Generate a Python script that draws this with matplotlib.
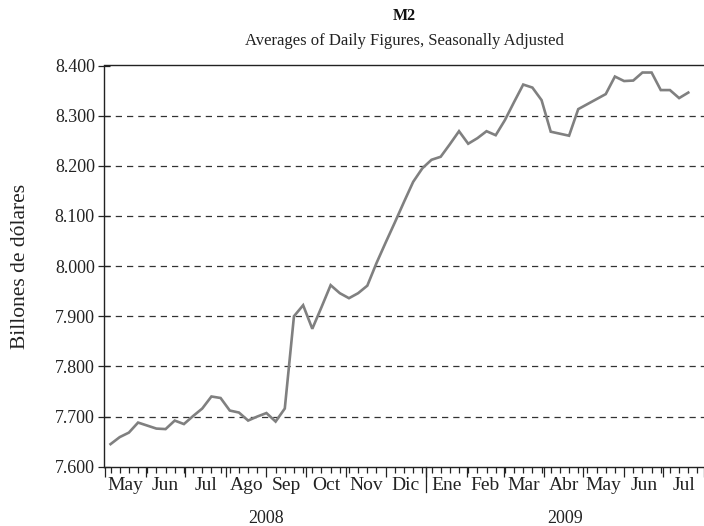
import matplotlib
matplotlib.use("Agg")
import matplotlib.pyplot as plt
import matplotlib.transforms as mtransforms
from matplotlib.lines import Line2D
import pandas as pd

# ---- data (billions of dollars, weekly) ----
start_week = "2008-05-05"
m2_values = [7645, 7659, 7668, 7688, 7682, 7676, 7675, 7692, 7685, 7701,
             7716, 7740, 7737, 7712, 7708, 7692, 7700, 7707, 7690, 7716,
             7900, 7922, 7875, 7918, 7962, 7946, 7936, 7946, 7961, 8006,
             8047, 8087, 8128, 8168, 8195, 8212, 8218, 8243, 8269, 8244,
             8255, 8269, 8261, 8291, 8327, 8362, 8356, 8331, 8268, 8264,
             8260, 8313, 8323, 8333, 8343, 8378, 8369, 8370, 8386, 8386,
             8351, 8351, 8335, 8346]
month_labels = ["May", "Jun", "Jul", "Ago", "Sep", "Oct", "Nov", "Dic",
                "Ene", "Feb", "Mar", "Abr", "May", "Jun", "Jul"]
first_month = "2008-05-01"
year_labels = ["2008", "2009"]
y_ticks = [7600, 7700, 7800, 7900, 8000, 8100, 8200, 8300, 8400]

title = "M2"
subtitle = "Averages of Daily Figures, Seasonally Adjusted"
ylabel = "Billones de dólares"

plt.rcParams['font.family'] = ['Liberation Serif', 'DejaVu Serif']

dates = pd.date_range(start_week, periods=len(m2_values), freq="7D")
month_starts = pd.date_range(first_month, periods=len(month_labels) + 1, freq="MS")

fig = plt.figure(figsize=(7.04, 5.26), dpi=100)
ax = fig.add_axes([104 / 704, (526 - 466.7) / 526, 600 / 704, 401.2 / 526])

ax.plot(dates, m2_values, color="#808080", lw=1.9, solid_joinstyle="miter", zorder=3)

ax.set_ylim(7600, 8400)
ax.set_xlim(pd.Timestamp("2008-04-30"), pd.Timestamp("2009-07-22"))

ax.set_yticks(y_ticks)
ax.yaxis.set_major_formatter(matplotlib.ticker.FuncFormatter(lambda v, p: f"{v/1000:.3f}"))
ax.tick_params(axis="y", direction="inout", length=9, width=0.9, labelsize=13, pad=2, colors="#222222")
for y in y_ticks[1:-1]:
    ax.axhline(y, color="#333333", lw=0.9, ls=(0, (5, 4)), zorder=1)

# x ticks: month starts (major), weekly (minor)
ax.set_xticks(month_starts)
ax.xaxis.set_major_formatter(matplotlib.ticker.NullFormatter())
ax.set_xticks(pd.date_range("2008-05-05", "2009-07-27", freq="7D"), minor=True)
ax.tick_params(axis="x", which="major", direction="out", length=7, width=0.9, colors="#222222")
ax.tick_params(axis="x", which="minor", direction="out", length=4.5, width=0.9, colors="#222222")

trans = mtransforms.blended_transform_factory(ax.transData, ax.transAxes)
for i, lab in enumerate(month_labels):
    mid = month_starts[i] + (month_starts[i + 1] - month_starts[i]) / 2
    ax.text(mid, -0.047, lab, transform=trans, ha="center", va="center", fontsize=14, color="#222222")

# year separator and year labels
jan1 = pd.Timestamp("2009-01-01")
ax.add_line(Line2D([jan1, jan1], [0, -0.062], transform=trans, color="#222222", lw=0.9, clip_on=False))
y0_mid = pd.Timestamp("2008-05-01") + (jan1 - pd.Timestamp("2008-05-01")) / 2
y1_mid = jan1 + (pd.Timestamp("2009-08-01") - jan1) / 2
ax.text(y0_mid, -0.128, year_labels[0], transform=trans, ha="center", va="center", fontsize=13, color="#222222")
ax.text(y1_mid, -0.128, year_labels[1], transform=trans, ha="center", va="center", fontsize=13, color="#222222")

for s in ["left", "bottom", "top"]:
    ax.spines[s].set_linewidth(1.0)
    ax.spines[s].set_color("#222222")
ax.spines["right"].set_visible(False)

ax.set_ylabel(ylabel, fontsize=15.5, color="#222222")
ax.yaxis.set_label_coords(-74 / 600, 0.5)

fig.text(404 / 704, 1 - 16 / 526, title, ha="center", va="center", fontsize=11.5, fontweight="bold", color="#111111")
fig.text(404 / 704, 1 - 41 / 526, subtitle, ha="center", va="center", fontsize=12, color="#222222")

fig.savefig("out.png", dpi=100)
